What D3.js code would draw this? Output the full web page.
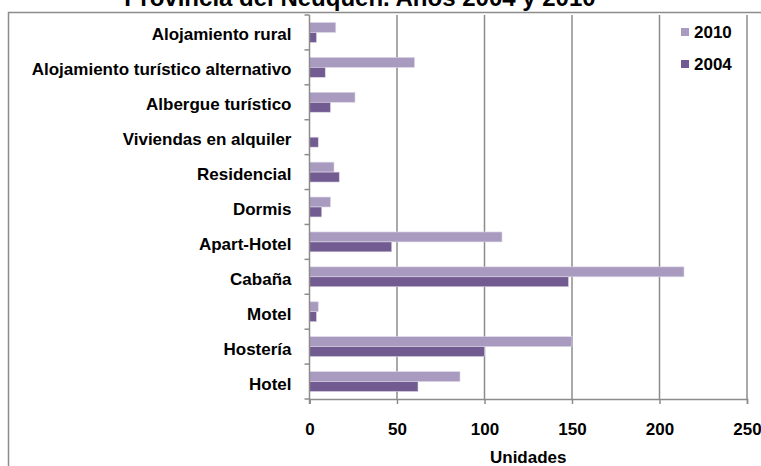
<!doctype html>
<html>
<head>
<meta charset="utf-8">
<style>
  body { margin: 0; background: #fff; }
  text { font-family: "Liberation Sans", Arial, sans-serif; font-weight: bold; fill: #000; }
</style>
<script src="https://d3js.org/d3.v7.min.js"></script>
</head>
<body>
<svg width="761" height="466"></svg>
<script>
var categories = ["Alojamiento rural", "Alojamiento turístico alternativo", "Albergue turístico",
  "Viviendas en alquiler", "Residencial", "Dormis", "Apart-Hotel", "Cabaña", "Motel", "Hostería", "Hotel"];
var series = ["2010", "2004"];
var values2010 = [15, 60, 26, 0, 14, 12, 110, 214, 5, 150, 86];
var values2004 = [4, 9, 12, 5, 17, 7, 47, 148, 4, 100, 62];
var xTicks = [0, 50, 100, 150, 200, 250];
var colors = ["#a99bbf", "#725b91"];

var svg = d3.select("svg");
var plotLeft = 309.5, plotRight = 747, plotTop = 15, plotBottom = 399;

// outer frame (runs off the picture at right and bottom)
svg.append("rect")
  .attr("x", 8.5).attr("y", 12.5)
  .attr("width", 770).attr("height", 480)
  .attr("fill", "none").attr("stroke", "#8c8c8c").attr("stroke-width", 1.5);

// title, cut off at the top
svg.append("text")
  .attr("x", 360).attr("y", 6)
  .attr("text-anchor", "middle")
  .style("font-size", "24px")
  .text("Provincia del Neuquén. Años 2004 y 2010");

var x = d3.scaleLinear().domain([0, 250]).range([plotLeft, plotRight]);
var y = d3.scaleBand().domain(categories).range([plotTop, plotBottom])
  .paddingInner(0.43).paddingOuter(0.215);
var ySub = d3.scaleBand().domain(series).range([0, y.bandwidth()]);

// gridlines
svg.append("g").selectAll("line")
  .data(xTicks.slice(1))
  .enter().append("line")
  .attr("x1", function (d) { return x(d); })
  .attr("x2", function (d) { return x(d); })
  .attr("y1", plotTop).attr("y2", plotBottom)
  .attr("stroke", "#8c8c8c").attr("stroke-width", 1.5);

// bars
var rows = categories.map(function (c, i) {
  return { cat: c, vals: [values2010[i], values2004[i]] };
});
var g = svg.append("g").selectAll("g")
  .data(rows).enter().append("g")
  .attr("transform", function (d) { return "translate(0," + y(d.cat) + ")"; });
g.selectAll("rect")
  .data(function (d) {
    return d.vals.map(function (v, k) { return { s: series[k], v: v, k: k }; })
      .filter(function (e) { return e.v > 0; });
  })
  .enter().append("rect")
  .attr("x", x(0))
  .attr("y", function (d) { return ySub(d.s); })
  .attr("width", function (d) { return x(d.v) - x(0); })
  .attr("height", ySub.bandwidth())
  .attr("fill", function (d) { return colors[d.k]; })
  .attr("stroke", "#ddd6e6").attr("stroke-width", 0.6);

// x axis
var xAxis = svg.append("g")
  .attr("transform", "translate(0," + plotBottom + ")")
  .call(d3.axisBottom(x).tickValues(xTicks).tickSize(5).tickPadding(19));
xAxis.select(".domain").attr("stroke", "#8c8c8c").attr("stroke-width", 1.5);
xAxis.selectAll(".tick line").attr("stroke", "#8c8c8c").attr("stroke-width", 1.5);
xAxis.selectAll(".tick text")
  .style("font-size", "17px");
xAxis.attr("font-size", null).attr("font-family", null);

// y axis: ticks at category boundaries
var yAxis = svg.append("g").attr("transform", "translate(" + plotLeft + ",0)");
yAxis.append("line")
  .attr("x1", 0).attr("x2", 0).attr("y1", plotTop).attr("y2", plotBottom + 5)
  .attr("stroke", "#8c8c8c").attr("stroke-width", 1.5);
yAxis.selectAll(".btick")
  .data(d3.range(categories.length + 1))
  .enter().append("line")
  .attr("x1", -5).attr("x2", 0)
  .attr("y1", function (i) { return plotTop + i * y.step(); })
  .attr("y2", function (i) { return plotTop + i * y.step(); })
  .attr("stroke", "#8c8c8c").attr("stroke-width", 1.5);
yAxis.selectAll(".lbl")
  .data(categories)
  .enter().append("text")
  .attr("x", -18)
  .attr("y", function (d) { return y(d) + y.bandwidth() / 2 + 8; })
  .attr("text-anchor", "end")
  .style("font-size", "17px")
  .text(function (d) { return d; });

// axis title
svg.append("text")
  .attr("x", (plotLeft + plotRight) / 2).attr("y", 463)
  .attr("text-anchor", "middle")
  .style("font-size", "17px")
  .text("Unidades");

// legend
var leg = svg.append("g").selectAll("g")
  .data(series).enter().append("g")
  .attr("transform", function (d, i) { return "translate(681," + (28 + i * 32) + ")"; });
leg.append("rect")
  .attr("width", 8).attr("height", 8)
  .attr("fill", function (d, i) { return colors[i]; });
leg.append("text")
  .attr("x", 13).attr("y", 9.5)
  .style("font-size", "17px")
  .text(function (d) { return d; });
</script>
</body>
</html>
